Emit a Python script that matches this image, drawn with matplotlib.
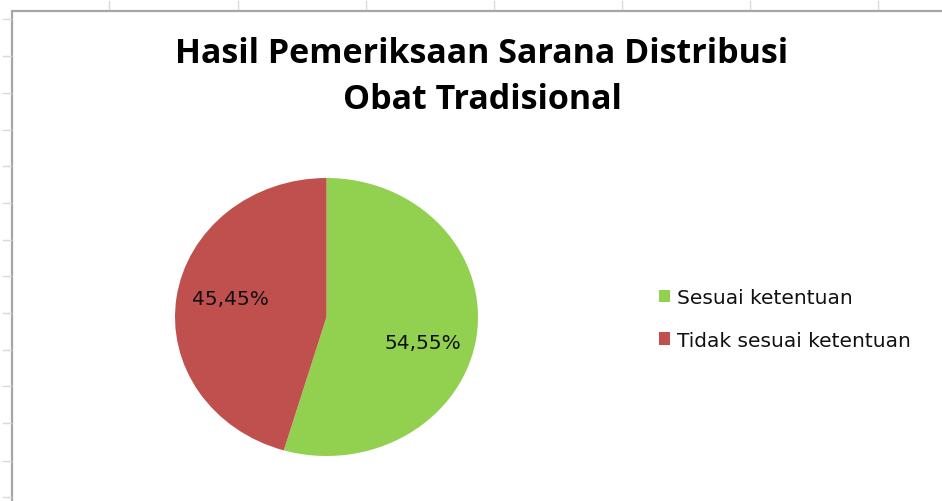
import matplotlib
matplotlib.use("Agg")
import matplotlib.pyplot as plt
from matplotlib.patches import Rectangle
from matplotlib.lines import Line2D

plt.rcParams['font.family'] = ['Open Sans', 'DejaVu Sans']

title = 'Hasil Pemeriksaan Sarana Distribusi\nObat Tradisional'
categories = ['Sesuai ketentuan', 'Tidak sesuai ketentuan']
values = [54.55, 45.45]
colors = ['#92D050', '#C0504D']

W, H = 942, 502
fig = plt.figure(figsize=(W / 100, H / 100), dpi=100)
fig.patch.set_facecolor('white')

# spreadsheet frame behind the chart
grey = '#a6a6a6'
fig.add_artist(Rectangle((12 / W, -0.1), 1.2, (H - 12) / H + 0.1, transform=fig.transFigure,
                         fill=False, edgecolor=grey, linewidth=1.6))
for x in [109, 238, 366, 494, 622, 750, 878]:
    fig.add_artist(Line2D([x / W, x / W], [1 - 2 / H, 1 - 10 / H], color='#d9d9d9', lw=1))
for y in [20, 57, 94, 131, 167, 204, 241, 277, 314, 351, 387, 424, 462, 498]:
    fig.add_artist(Line2D([3 / W, 11 / W], [1 - y / H, 1 - y / H], color='#d9d9d9', lw=1))

fig.text(482 / W, 1 - 77 / H, title, ha='center', va='center', fontsize=24.5,
         fontweight='bold', linespacing=1.45, color='#000000')

# pie is slightly stretched horizontally in the reference
left, right, top, bottom = 175, 478, 179, 457
ax = fig.add_axes([left / W, (H - bottom) / H, (right - left) / W, (bottom - top) / H])
wedges, texts, autotexts = ax.pie(values, colors=colors, startangle=90, counterclock=False,
                                  autopct=lambda p: f'{p:.2f}%'.replace('.', ','),
                                  pctdistance=0.64, radius=1,
                                  wedgeprops=dict(linewidth=0),
                                  textprops=dict(fontsize=14.5, color='#111111',
                                                 family='DejaVu Sans'))
# nudge labels toward where the reference has them
for t, dy in zip(autotexts, [-0.095, 0.04]):
    x, y = t.get_position()
    t.set_position((x, y + dy))
ax.set_xlim(-1, 1)
ax.set_ylim(-1, 1)
ax.set_aspect('auto')
ax.axis('off')

leg = fig.legend(wedges, categories, loc='center left', bbox_to_anchor=(641 / W, 1 - 320 / H),
                 frameon=False, prop=dict(family='DejaVu Sans', size=14.5),
                 handlelength=0.55, handleheight=0.55, handletextpad=0.35, labelspacing=1.15)
for t in leg.get_texts():
    t.set_color('#111111')

fig.savefig('out.png', dpi=100)
